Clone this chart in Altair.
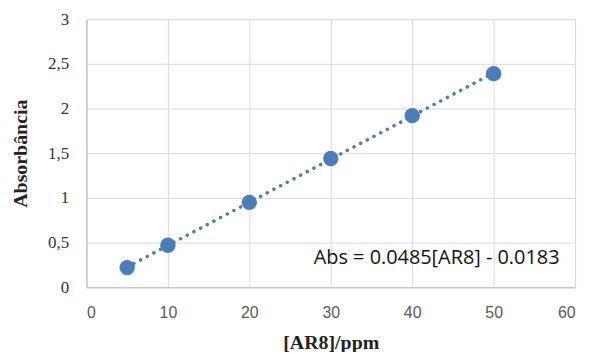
import altair as alt
import pandas as pd

conc = [5, 10, 20, 30, 40, 50]
absorb = [0.22, 0.47, 0.95, 1.44, 1.92, 2.39]
eq_text = ["Abs = 0.0485[AR8] - 0.0183"]
eq_x = [43.0]
eq_y = [0.33]

df = pd.DataFrame({"c": conc, "a": absorb})
tdf = pd.DataFrame({"t": eq_text, "x": eq_x, "y": eq_y})

blue = "#4A7EBB"
xscale = alt.Scale(domain=[0, 60], nice=False)
yscale = alt.Scale(domain=[0, 3], nice=False)

xaxis = alt.Axis(values=[0, 10, 20, 30, 40, 50, 60], title="[AR8]/ppm",
                 labelFont="Liberation Sans", labelFontSize=16, labelColor="#595959",
                 labelPadding=17, ticks=False, domainColor="#bfbfbf",
                 gridColor="#d9d9d9", titleFont="Liberation Serif", titleFontSize=20,
                 titleFontWeight="bold", titleColor="#222222", titlePadding=13)
yaxis = alt.Axis(values=[0, 0.5, 1, 1.5, 2, 2.5, 3], title="Absorbância",
                 labelExpr="replace(toString(datum.value), '.', ',')",
                 labelFont="Liberation Serif", labelFontSize=17, labelColor="#333333",
                 labelPadding=18, ticks=False, domainColor="#bfbfbf",
                 gridColor="#d9d9d9", titleFont="Liberation Serif", titleFontSize=20,
                 titleFontWeight="bold", titleColor="#222222", titlePadding=17)

base = alt.Chart(df)
line = base.transform_regression("c", "a", extent=[5, 50]).mark_line(
    color=blue, strokeDash=[0.1, 7.5], strokeWidth=3.5, strokeCap="round"
).encode(x=alt.X("c:Q", scale=xscale, axis=xaxis), y=alt.Y("a:Q", scale=yscale, axis=yaxis))

pts = base.mark_circle(color=blue, size=240, opacity=1).encode(
    x=alt.X("c:Q", scale=xscale), y=alt.Y("a:Q", scale=yscale))

txt = alt.Chart(tdf).mark_text(font="Open Sans", fontSize=20, color="#111111").encode(
    x=alt.X("x:Q", scale=xscale), y=alt.Y("y:Q", scale=yscale), text="t:N")

chart = (line + pts + txt).properties(
    width=492, height=270,
    autosize=alt.AutoSizeParams(type="none"),
    padding={"left": 79, "top": 10, "right": 10, "bottom": 64},
).configure_view(stroke=None).configure(background="white")

chart.save("out.html", embed_options={"renderer": "svg", "actions": False})
